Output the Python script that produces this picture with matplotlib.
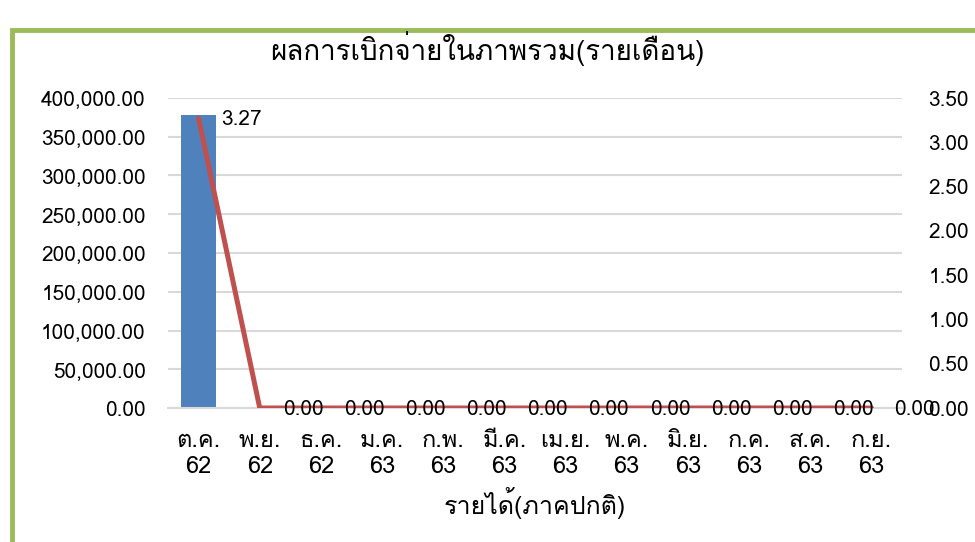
import matplotlib
matplotlib.use("Agg")
import matplotlib.pyplot as plt
from matplotlib import font_manager
from matplotlib.patches import Rectangle
from matplotlib.ticker import FuncFormatter, MultipleLocator

# pick any installed font that has Thai glyphs
thai_font = None
try:
    from fontTools.ttLib import TTFont
    for f in font_manager.fontManager.ttflist:
        try:
            cmap = TTFont(f.fname, fontNumber=0, lazy=True).getBestCmap()
        except Exception:
            continue
        if cmap and 0x0E01 in cmap:
            thai_font = f.name
            break
except ImportError:
    pass

families = [thai_font, "DejaVu Sans"] if thai_font else ["DejaVu Sans"]
plt.rcParams["font.family"] = families

months = ["ต.ค.\n62", "พ.ย.\n62", "ธ.ค.\n62", "ม.ค.\n63", "ก.พ.\n63", "มี.ค.\n63",
          "เม.ย.\n63", "พ.ค.\n63", "มิ.ย.\n63", "ก.ค.\n63", "ส.ค.\n63", "ก.ย.\n63"]
amount = [378000, 0, 0, 0, 0, 0, 0, 0, 0, 0, 0, 0]
percent = [3.27, 0, 0, 0, 0, 0, 0, 0, 0, 0, 0, 0]

title = "ผลการเบิกจ่ายในภาพรวม(รายเดือน)"
xlabel = "รายได้(ภาคปกติ)"

fig = plt.figure(figsize=(9.75, 5.42), dpi=100)
fig.patches.append(Rectangle((12 / 975, -0.1), 1.2, (542 - 30) / 542 + 0.1,
                             transform=fig.transFigure, fill=False,
                             edgecolor="#9BBB59", linewidth=3.5))

ax = fig.add_axes([168 / 975, 1 - 408 / 542, (902 - 168) / 975, 310 / 542])
x = list(range(len(months)))
ax.bar(x, amount, width=0.57, color="#4F81BD", zorder=2)
ax.set_xlim(-0.5, len(months) - 0.5)
ax.set_ylim(0, 400000)
ax.yaxis.set_major_locator(MultipleLocator(50000))
ax.yaxis.set_major_formatter(FuncFormatter(lambda v, p: f"{v:,.2f}"))
ax.grid(axis="y", color="#D9D9D9", linewidth=1.5, zorder=0)
ax.set_axisbelow(True)
for s in ["top", "right", "left"]:
    ax.spines[s].set_visible(False)
ax.spines["bottom"].set_color("#D9D9D9")
ax.spines["bottom"].set_linewidth(1.5)
ax.tick_params(axis="both", length=0, colors="black")
ax.tick_params(axis="y", labelsize=15, pad=16)
ax.set_xticks(x)
ax.set_xticklabels(months, fontsize=17, linespacing=1.15)
ax.tick_params(axis="x", pad=15)
ax.set_xlabel(xlabel, fontsize=18, labelpad=7)
fig.suptitle(title, fontsize=20, y=1 - 49 / 542, va="center")

ax2 = ax.twinx()
ax2.plot(x, percent, color="#C0504D", linewidth=3.6, zorder=3, solid_capstyle="round")
ax2.set_ylim(0, 3.5)
ax2.yaxis.set_major_locator(MultipleLocator(0.5))
ax2.yaxis.set_major_formatter(FuncFormatter(lambda v, p: f"{v:.2f}"))
for s in ["top", "right", "left", "bottom"]:
    ax2.spines[s].set_visible(False)
ax2.tick_params(axis="y", length=0, labelsize=15, pad=19)
for xi, v in zip(x, percent):
    ax2.annotate(f"{v:.2f}", (xi, v), xytext=(16.5, -1), textcoords="offset points",
                 ha="left", va="center", fontsize=15, zorder=4)

fig.savefig("out.png", dpi=100, facecolor="white")
